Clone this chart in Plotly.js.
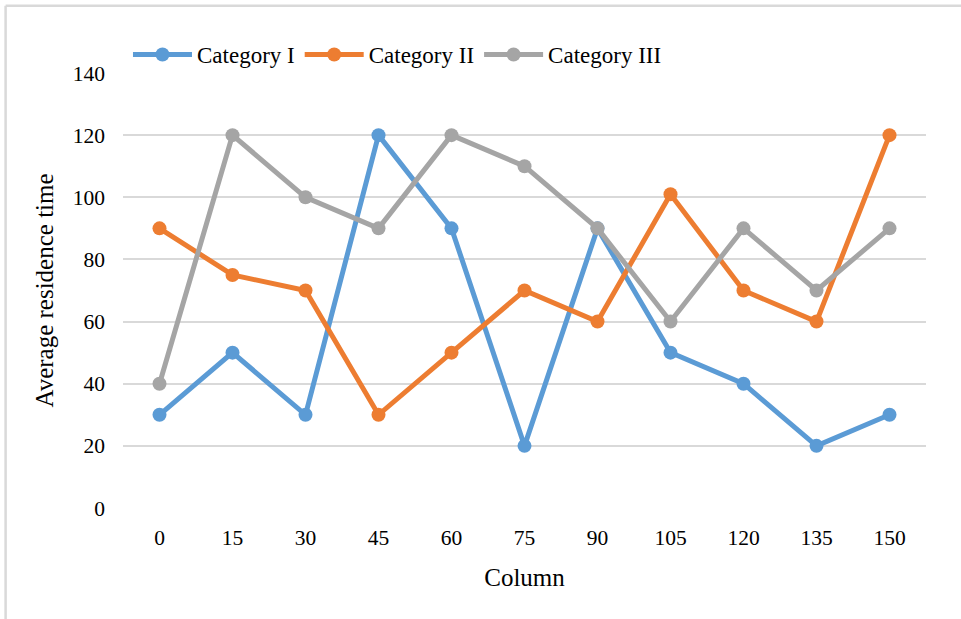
<!DOCTYPE html>
<html>
<head>
<meta charset="utf-8">
<script src="https://cdn.plot.ly/plotly-3.0.1.min.js"></script>
<style>
  html, body { margin: 0; padding: 0; background: #fff; }
  #chart { width: 961px; height: 619px; }
</style>
</head>
<body>
<div id="chart"></div>
<script>
const columns = ['0', '15', '30', '45', '60', '75', '90', '105', '120', '135', '150'];
const categoryI = [30, 50, 30, 120, 90, 20, 90, 50, 40, 20, 30];
const categoryII = [90, 75, 70, 30, 50, 70, 60, 101, 70, 60, 120];
const categoryIII = [40, 120, 100, 90, 120, 110, 90, 60, 90, 70, 90];
const seriesNames = ['Category I', 'Category II', 'Category III'];
const seriesColors = ['#5B9BD5', '#ED7D31', '#A5A5A5'];
const yTicks = [0, 20, 40, 60, 80, 100, 120, 140];

const FONT = "'Liberation Serif', 'Times New Roman', serif";
const seriesData = [categoryI, categoryII, categoryIII];

const traces = seriesData.map((vals, i) => ({
  type: 'scatter',
  mode: 'lines+markers',
  name: seriesNames[i],
  x: columns,
  y: vals,
  line: { color: seriesColors[i], width: 5 },
  marker: { color: seriesColors[i], size: 14 },
  cliponaxis: false
}));

const layout = {
  width: 961,
  height: 619,
  margin: { l: 122.5, r: 34.5, t: 73, b: 111.3 },
  paper_bgcolor: '#ffffff',
  plot_bgcolor: '#ffffff',
  font: { family: FONT, color: '#000000', size: 21.5 },
  showlegend: true,
  legend: {
    orientation: 'h',
    x: 0.0062,
    xanchor: 'left',
    y: 0.993,
    yanchor: 'bottom',
    itemwidth: 59,
    font: { family: FONT, size: 23, color: '#000000' },
    bgcolor: 'rgba(0,0,0,0)',
    itemclick: false
  },
  xaxis: {
    type: 'category',
    categoryorder: 'array',
    categoryarray: columns,
    range: [-0.5, 10.5],
    showgrid: false,
    zeroline: false,
    showline: false,
    ticks: '',
    ticklabelstandoff: 14,
    tickfont: { family: FONT, size: 21.5, color: '#000000' },
    title: { text: 'Column', font: { family: FONT, size: 25, color: '#000000' }, standoff: 19 },
    fixedrange: true
  },
  yaxis: {
    range: [0, 140],
    tickvals: yTicks,
    ticktext: yTicks.map(String),
    showgrid: true,
    gridcolor: '#D9D9D9',
    gridwidth: 2,
    zeroline: false,
    showline: false,
    ticks: '',
    ticklabelstandoff: 17,
    tickfont: { family: FONT, size: 21.5, color: '#000000' },
    title: { text: 'Average residence time', font: { family: FONT, size: 25, color: '#000000' }, standoff: 12 },
    fixedrange: true
  },
  shapes: [
    { type: 'line', xref: 'paper', yref: 'paper', x0: -0.1462, x1: 1.1, y0: 1.1545, y1: 1.1545,
      line: { color: '#D9D9D9', width: 2.5 } },
    { type: 'line', xref: 'paper', yref: 'paper', x0: -0.1462, x1: -0.1462, y0: -0.3, y1: 1.1545,
      line: { color: '#D9D9D9', width: 2.5 } }
  ]
};

Plotly.newPlot('chart', traces, layout, { displayModeBar: false, staticPlot: true });
</script>
</body>
</html>
